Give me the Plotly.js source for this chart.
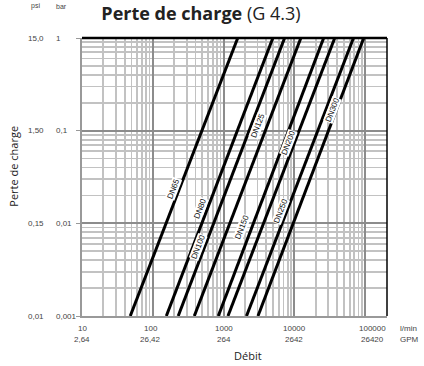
<!DOCTYPE html>
<html>
<head>
<meta charset="utf-8">
<script src="https://cdn.plot.ly/plotly-3.0.1.min.js"></script>
<style>html,body{margin:0;padding:0;background:#fff;}#chart{width:424px;height:366px;}</style>
</head>
<body>
<div id="chart"></div>
<script>
// ---- data ----
const sizes = ['DN65', 'DN80', 'DN100', 'DN125', 'DN150', 'DN200', 'DN250', 'DN300'];
// flow (l/min) at the bottom of the chart (0.001 bar) and at the top (1 bar)
const flowAtLowLoss = [48, 155, 228, 385, 840, 1150, 2100, 3050];
const flowAtHighLoss = [1580, 4950, 7250, 12300, 25800, 37000, 68000, 95000];
const lossEnds = [0.001, 1];

// tick labels
const flowTicks = [10, 100, 1000, 10000, 100000];
const flowTickLpm = ['10', '100', '1000', '10000', '100000'];
const flowTickGpm = ['2,64', '26,42', '264', '2642', '26420'];
const lossTicks = [1, 0.1, 0.01, 0.001];
const lossTickBar = ['1', '0,1', '0,01', '0,001'];
const lossTickPsi = ['15,0', '1,50', '0,15', '0,01'];

// label placement (layout only)
const labelPos = [
  [197, 0.0237], [469, 0.0144], [444, 0.00556], [3040, 0.114],
  [1820, 0.00895], [8280, 0.074], [6310, 0.01355], [34000, 0.166]
];
const flowTickShift = [0, -2, 0, 0, 7];

const traces = sizes.map((s, i) => ({
  type: 'scatter', mode: 'lines', name: s,
  x: [flowAtLowLoss[i], flowAtHighLoss[i]],
  y: [lossEnds[0], lossEnds[1]],
  line: {color: '#000', width: 3},
  hoverinfo: 'skip'
}));

const tickFont = {family: 'Liberation Sans, Arial, sans-serif', size: 8, color: '#444'};
const ann = [];
sizes.forEach((s, i) => ann.push({
  x: Math.log10(labelPos[i][0]), y: Math.log10(labelPos[i][1]), xref: 'x', yref: 'y',
  text: s, showarrow: false, textangle: -69, bgcolor: '#fff', borderpad: 0,
  font: {family: 'Liberation Sans, Arial, sans-serif', size: 8, color: '#111'}
}));
flowTicks.forEach((v, i) => {
  ann.push({x: Math.log10(v), y: -0.0453, xref: 'x', yref: 'paper', text: flowTickLpm[i],
    showarrow: false, xshift: flowTickShift[i], yanchor: 'middle', font: tickFont});
  ann.push({x: Math.log10(v), y: -0.085, xref: 'x', yref: 'paper', text: flowTickGpm[i],
    showarrow: false, xshift: flowTickShift[i], yanchor: 'middle', font: tickFont});
});
ann.push({x: 1.037, y: -0.0453, xref: 'paper', yref: 'paper', text: 'l/min', showarrow: false, xanchor: 'left', yanchor: 'middle', font: tickFont});
ann.push({x: 1.037, y: -0.085, xref: 'paper', yref: 'paper', text: 'GPM', showarrow: false, xanchor: 'left', yanchor: 'middle', font: tickFont});
lossTicks.forEach((v, i) => {
  ann.push({x: -0.0908, y: Math.log10(v), xref: 'paper', yref: 'y', text: lossTickBar[i],
    showarrow: false, xanchor: 'left', yanchor: 'middle', font: tickFont});
  ann.push({x: -0.1515, y: Math.log10(v), xref: 'paper', yref: 'y', text: lossTickPsi[i],
    showarrow: false, xanchor: 'center', yanchor: 'middle', font: tickFont});
});
ann.push({x: -0.1515, y: 1.114, xref: 'paper', yref: 'paper', text: 'psi', showarrow: false, xanchor: 'center', yanchor: 'middle', font: {family: 'Liberation Sans, Arial, sans-serif', size: 7, color: '#444'}});
ann.push({x: -0.0908, y: 1.114, xref: 'paper', yref: 'paper', text: 'bar', showarrow: false, xanchor: 'left', yanchor: 'middle', font: {family: 'Liberation Sans, Arial, sans-serif', size: 7, color: '#444'}});
ann.push({x: 0.545, y: -0.1414, xref: 'paper', yref: 'paper', text: 'Débit', showarrow: false, xanchor: 'center', yanchor: 'middle', font: {family: 'Open Sans, sans-serif', size: 11, color: '#222'}});
ann.push({x: -0.225, y: 0.5385, xref: 'paper', yref: 'paper', text: 'Perte de charge', showarrow: false, textangle: -90, xanchor: 'center', yanchor: 'middle', font: {family: 'Open Sans, sans-serif', size: 11, color: '#222'}});

const layout = {
  width: 424, height: 366,
  margin: {l: 82, r: 37, t: 38, b: 50, pad: 0},
  paper_bgcolor: '#fff', plot_bgcolor: '#fff',
  showlegend: false,
  title: {text: '<b>Perte de charge</b> (G 4.3)', x: 0.474, xanchor: 'center', y: 0.962, yanchor: 'middle',
    font: {family: 'Open Sans, sans-serif', size: 18, color: '#222'}},
  xaxis: {type: 'log', range: [1, 5.306], dtick: 1, showticklabels: false,
    showgrid: true, gridcolor: '#8c8c8c', gridwidth: 2,
    minor: {dtick: 'D1', showgrid: true, gridcolor: '#c2c2c2', gridwidth: 1.8, ticks: ''},
    showline: true, linecolor: '#999', linewidth: 2, zeroline: false, ticks: ''},
  yaxis: {type: 'log', range: [-3, 0], dtick: 1, showticklabels: false,
    showgrid: true, gridcolor: '#8c8c8c', gridwidth: 2,
    minor: {dtick: 'D1', showgrid: true, gridcolor: '#c2c2c2', gridwidth: 1.8, ticks: ''},
    showline: true, linecolor: '#999', linewidth: 2, zeroline: false,
    ticks: 'outside', ticklen: 4, tickcolor: '#999', tickwidth: 1},
  shapes: [
    {type: 'line', xref: 'paper', yref: 'paper', x0: 0, x1: 1, y0: 1, y1: 1, line: {color: '#000', width: 2.5}},
    {type: 'line', xref: 'paper', yref: 'paper', x0: 1, x1: 1, y0: 0, y1: 1, line: {color: '#000', width: 1.5}}
  ],
  annotations: ann
};
Plotly.newPlot('chart', traces, layout, {displayModeBar: false, staticPlot: true});
</script>
</body>
</html>
